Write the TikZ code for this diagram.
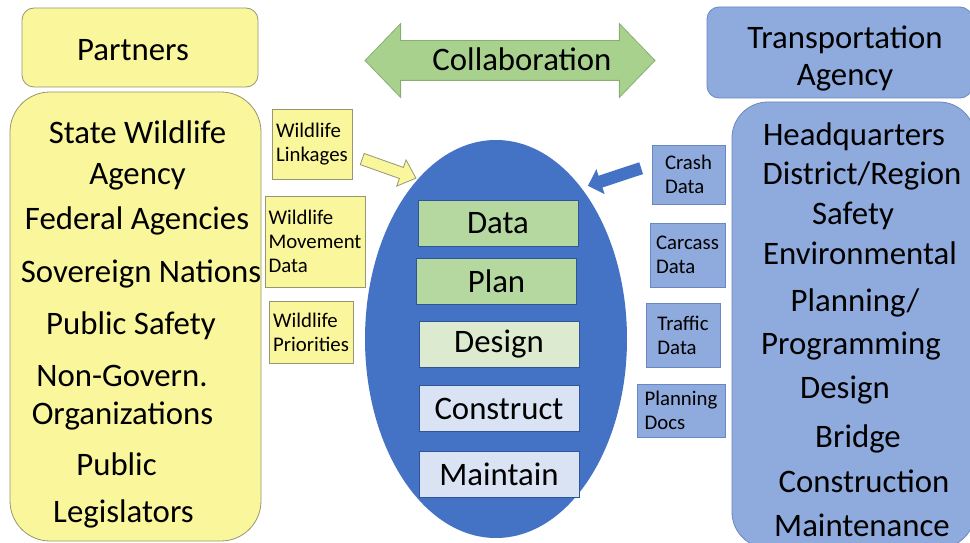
\documentclass[tikz,border=0pt]{standalone}
\usepackage{fontspec}
\setmainfont{Carlito}
\usetikzlibrary{
  positioning,
  shapes.geometric,
  shapes.arrows
}
\definecolor{pyellow}{RGB}{250,246,155}
\definecolor{pyellowline}{RGB}{150,150,115}
\definecolor{tblue}{RGB}{143,170,220}
\definecolor{tblueline}{RGB}{105,135,195}
\definecolor{ovalblue}{RGB}{68,114,196}
\definecolor{cgreen}{RGB}{169,209,142}
\definecolor{cgreenline}{RGB}{135,175,115}
\definecolor{stagegreen}{RGB}{181,215,160}
\definecolor{stagelight}{RGB}{220,235,208}
\definecolor{stageblue}{RGB}{218,227,243}
\definecolor{stageline}{RGB}{47,85,151}
\tikzset{
  bigtext/.style={
    font=\fontsize{32.8}{38}\selectfont,
    anchor=base,
    inner sep=0pt},
  smalltext/.style={
    font=\fontsize{20.8}{24}\selectfont,
    align=left,
    inner sep=0pt},
  ybox/.style={draw=pyellowline, fill=pyellow, line width=0.8pt},
  bbox/.style={draw=tblueline, fill=tblue, line width=0.8pt},
  stage/.style={
    draw=stageline,
    line width=0.8pt,
    minimum width=160pt,
    minimum height=46pt,
    inner sep=0pt,
    font=\fontsize{32.8}{38}\selectfont}
  }

\begin{document}
\begin{tikzpicture}[x=1pt, y=-1pt]
    \clip (0,0) rectangle (970,543);
    \fill[white] (0,0) rectangle (970,543);
    \node[ybox, rounded corners=12pt, minimum width=236pt, minimum height=79pt] (partners) at (140,47.5) {};
    \node[bigtext] (partnerstext) at (133,61) {Partners};
    \node[ybox, rounded corners=40pt, minimum width=251pt, minimum height=449pt] (partnerlist) at (135.5,316.5) {};
    \node[bbox, rounded corners=12pt, minimum width=265pt, minimum height=91pt] (agency) at (839.5,52.5) {};
    \node[bigtext] (agencytext) at (845,49) {Transportation};
    \node[bigtext] (agencytext2) at (845,86) {Agency};
    \node[bbox, rounded corners=36pt, minimum width=243pt, minimum height=446pt] (agencylist) at (853.5,325) {};
    \node[double arrow, draw=cgreenline, fill=cgreen, line width=0.8pt,
      minimum height=290pt, text height=22pt, text depth=0pt, inner ysep=8.5pt,
      double arrow head extend=17pt, double arrow tip angle=92] (collab) at (510,60.5) {};
    \node[bigtext] (collabtext) at (522,71) {Collaboration};
    \node[ellipse, fill=ovalblue, minimum width=262pt, minimum height=398pt, inner sep=0pt] (cycle) at (496,339) {};
    \node[stage, fill=stagegreen] (data) at (498,223) {Data};
    \node[stage, fill=stagegreen] (plan) at (496.5,281.5) {Plan};
    \node[stage, fill=stagelight] (design) at (499,344.5) {Design};
    \node[stage, fill=stageblue] (construct) at (499,408.5) {Construct};
    \node[stage, fill=stageblue] (maintain) at (499,474.5) {Maintain};
    \node[ybox, smalltext, minimum width=80pt, minimum height=70pt] (linkages) at (312,144) {Wildlife\\Linkages};
    \node[ybox, smalltext, minimum width=100pt, minimum height=91pt] (movement) at (315,241.5) {Wildlife\\Movement\\Data};
    \node[ybox, smalltext, minimum width=84pt, minimum height=62pt] (priorities) at (311,332) {Wildlife\\Priorities};
    \node[bbox, smalltext, minimum width=73pt, minimum height=59pt] (crash) at (688.5,174.5) {Crash\\Data};
    \node[bbox, smalltext, minimum width=75pt, minimum height=64pt] (carcass) at (687.5,255) {Carcass\\Data};
    \node[bbox, smalltext, minimum width=74pt, minimum height=64pt] (traffic) at (683,335) {Traffic\\Data};
    \node[bbox, smalltext, minimum width=88pt, minimum height=53pt] (plandocs) at (681,410.5) {Planning\\Docs};
    \node[single arrow, ybox, minimum height=57pt, inner xsep=0pt, inner ysep=5.5pt,
      single arrow head extend=8pt, single arrow tip angle=84, rotate=-19.6] (linkarrow) at (386,167.5) {};
    \node[single arrow, fill=ovalblue, minimum height=56pt, inner xsep=0pt, inner ysep=6pt,
      single arrow head extend=7pt, single arrow tip angle=90, rotate=198.3] (crasharrow) at (617.5,176) {};
    \node[bigtext] (state) at (137.5,143) {State Wildlife};
    \node[bigtext] (stateagency) at (137.5,184) {Agency};
    \node[bigtext] (federal) at (137,229) {Federal Agencies};
    \node[bigtext] (sovereign) at (141,282) {Sovereign Nations};
    \node[bigtext] (safety) at (131,334) {Public Safety};
    \node[bigtext] (nongov) at (122,386) {Non-Govern.};
    \node[bigtext] (orgs) at (122.5,424) {Organizations};
    \node[bigtext] (public) at (116.5,475) {Public};
    \node[bigtext] (legis) at (123.5,522) {Legislators};
    \node[bigtext] (hq) at (854,146) {Headquarters};
    \node[bigtext] (district) at (862,184) {District/Region};
    \node[bigtext] (dotsafety) at (853,224) {Safety};
    \node[bigtext] (environ) at (860,264) {Environmental};
    \node[bigtext] (planning) at (855,311) {Planning/};
    \node[bigtext] (programming) at (851,354) {Programming};
    \node[bigtext] (dotdesign) at (845,398) {Design};
    \node[bigtext] (bridge) at (858,447) {Bridge};
    \node[bigtext] (construction) at (864,492) {Construction};
    \node[bigtext] (maintenance) at (862,536) {Maintenance};
  \end{tikzpicture}
\end{document}
